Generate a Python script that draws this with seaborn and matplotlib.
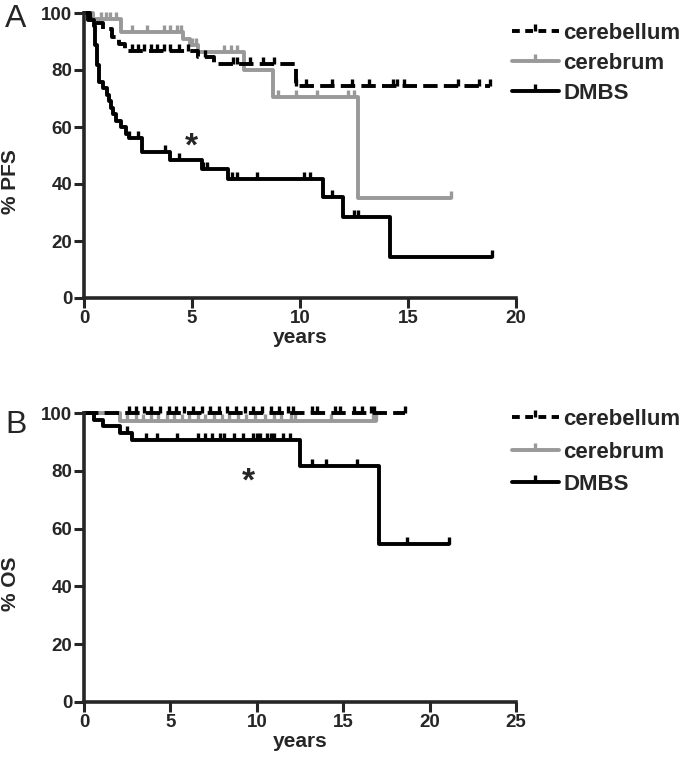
import numpy as np
import pandas as pd
import matplotlib
matplotlib.use("Agg")
import matplotlib.pyplot as plt
import seaborn as sns
from matplotlib.lines import Line2D

# ---------------- data ----------------
groups = ["cerebellum", "cerebrum", "DMBS"]

# Panel A: progression-free survival
A_cerebellum_t = [0.3, 0.5, 0.9, 1.3, 1.6, 1.9, 5.3, 6.0, 9.8]
A_cerebellum_s = [98, 96.5, 94.5, 91.5, 89, 86.8, 84.5, 82, 74.5]
A_cerebellum_cens = [2.2, 2.5, 2.8, 3.1, 3.4, 3.7, 4.0, 4.4, 4.8, 5.6, 6.9, 7.1, 7.7, 8.3, 8.8,
                     9.8, 10.3, 11.5, 12.4, 13.2, 14.3, 14.5, 14.8, 17.3, 18.3, 18.8]
A_cerebellum_end = 18.8

A_cerebrum_t = [0.4, 1.7, 4.6, 4.9, 5.3, 7.4, 8.75, 12.7]
A_cerebrum_s = [97.8, 93.3, 91, 88.7, 86.2, 80, 70.5, 35.2]
A_cerebrum_cens = [0.8, 1.0, 1.2, 1.5, 2.2, 2.9, 3.7, 4.0, 4.3, 4.5, 5.0, 5.2, 6.5, 6.8, 7.1,
                   9.0, 9.8, 10.8, 12.2, 12.5, 17.0]
A_cerebrum_end = 17.0

A_dmbs_t = [0.2, 0.45, 0.5, 0.6, 0.7, 0.9, 1.05, 1.15, 1.25, 1.35, 1.5, 1.7, 1.95, 2.1,
            2.7, 4.0, 5.45, 6.65, 11.05, 12.0, 14.15]
A_dmbs_s = [97.7, 95.4, 88.6, 81.8, 75.9, 73.6, 71.4, 69.1, 66.8, 64.5, 62.2, 60, 57.7, 56,
            51.2, 48.4, 45.3, 41.8, 35.4, 28.4, 14.4]
A_dmbs_cens = [2.1, 2.5, 3.75, 4.4, 5.5, 5.7, 6.85, 7.1, 8.0, 10.2, 10.45, 11.5, 12.5, 12.7, 18.9]
A_dmbs_end = 18.9

# Panel B: overall survival
B_cerebellum_t = []
B_cerebellum_s = []
B_cerebellum_cens = [2.6, 3.0, 3.5, 3.9, 4.4, 4.9, 5.3, 5.8, 6.3, 6.8, 7.3, 7.8, 8.3, 8.8, 9.3,
                     9.8, 10.3, 10.8, 11.3, 11.8, 12.1, 13.2, 13.5, 14.5, 14.8, 15.6, 16.1,
                     16.6, 16.8, 18.6]
B_cerebellum_end = 18.6

B_cerebrum_t = [2.1]
B_cerebrum_s = [97.3]
B_cerebrum_cens = [2.5, 3.0, 3.4, 3.9, 4.3, 4.8, 5.2, 5.7, 6.1, 6.6, 7.0, 7.5, 8.0, 8.4, 8.9,
                   9.4, 9.9, 10.5, 11.0, 11.4, 12.0, 12.2, 14.3, 16.7, 16.9]
B_cerebrum_end = 16.9

B_dmbs_t = [0.6, 1.1, 2.1, 2.75, 12.5, 17.1]
B_dmbs_s = [97.7, 95.4, 93.1, 90.8, 81.7, 54.5]
B_dmbs_cens = [2.5, 3.6, 4.2, 5.4, 6.6, 7.0, 7.4, 7.85, 8.1, 8.7, 9.2, 9.8, 10.0, 10.2, 10.6,
               10.8, 11.0, 11.5, 11.9, 13.2, 14.0, 15.8, 18.7, 21.1]
B_dmbs_end = 21.1

A_xticks = [0, 5, 10, 15, 20]
B_xticks = [0, 5, 10, 15, 20, 25]
y_ticks = [0, 20, 40, 60, 80, 100]

# ---------------- styling ----------------
sns.set_style("ticks")
plt.rcParams["font.family"] = ["Liberation Sans", "DejaVu Sans"]
plt.rcParams["font.weight"] = "bold"

W, H = 685, 762
DPI = 100
fig = plt.figure(figsize=(W / DPI, H / DPI), dpi=DPI)

colors = {"cerebellum": "#000000", "cerebrum": "#999999", "DMBS": "#000000"}
dash_map = {"cerebellum": (2.0, 1.4), "cerebrum": "", "DMBS": ""}
LW = 2.8
MS = 10
MEW = 2.4
tick_marker = [(0, 0), (0, 1)]


def curve_frame(spec):
    rows = []
    for g, (ts, ss, cens, end) in spec.items():
        tt = [0.0] + list(ts) + [end]
        sv = [100.0] + list(ss) + [([100.0] + list(ss))[-1]]
        for a, b in zip(tt, sv):
            rows.append({"t": a, "s": b, "group": g})
    return pd.DataFrame(rows)


def surv_at(ts, ss, c):
    full = [100.0] + list(ss)
    idx = np.searchsorted(np.asarray(ts, dtype=float), c, side="right")
    return full[idx]


def draw_panel(ax, spec, xticks, ylabel, star_xy, legend_anchor, lspace):
    df = curve_frame(spec)
    order = ["cerebrum", "cerebellum", "DMBS"]
    for g in order:
        sub = df[df.group == g]
        kw = {"dashes": dash_map[g]} if g == "cerebellum" else {}
        sns.lineplot(data=sub, x="t", y="s", color=colors[g], lw=LW,
                     drawstyle="steps-post", estimator=None, sort=False,
                     ax=ax, legend=False,
                     linestyle="--" if g == "cerebellum" else "-", **kw)
        ts, ss, cens, end = spec[g]
        cy = [surv_at(ts, ss, c) for c in cens]
        ax.plot(cens, cy, linestyle="none", marker=tick_marker, markersize=MS,
                markeredgewidth=MEW, color=colors[g], markerfacecolor=colors[g])
    ax.set_xlim(xticks[0], xticks[-1])
    ax.set_ylim(0, 100)
    ax.set_xticks(xticks)
    ax.set_yticks(y_ticks)
    ax.tick_params(direction="out", length=7, width=2.2, labelsize=13.5, pad=1.5)
    for lab in ax.get_xticklabels() + ax.get_yticklabels():
        lab.set_fontweight("bold")
    sns.despine(ax=ax)
    for sp in ["left", "bottom"]:
        ax.spines[sp].set_linewidth(2.6)
    ax.set_xlabel("years", fontsize=15, fontweight="bold", labelpad=1)
    ax.set_ylabel(ylabel, fontsize=15, fontweight="bold")
    ax.yaxis.set_label_coords(-0.148, 0.41)
    ax.text(star_xy[0], star_xy[1], "*", fontsize=24, fontweight="bold",
            ha="center", va="center")
    for ln in ax.lines:
        ln.set_clip_on(False)

    handles = []
    for g in groups:
        h = Line2D([], [], color=colors[g], lw=LW,
                   linestyle=(0, dash_map[g]) if g == "cerebellum" else "-",
                   marker=tick_marker, markersize=MS, markeredgewidth=MEW,
                   markerfacecolor=colors[g])
        handles.append(h)
    ax.legend(handles, groups, loc="upper left",
              bbox_to_anchor=legend_anchor, bbox_transform=fig.transFigure,
              frameon=False, borderpad=0, borderaxespad=0, numpoints=1,
              handlelength=2.1, handletextpad=0.2, labelspacing=lspace,
              prop={"size": 16, "weight": "bold"})
    return ax


left = 84 / W
width = 432 / W
axA = fig.add_axes([left, 1 - 298 / H, width, 285 / H])
axB = fig.add_axes([left, 1 - 702 / H, width, 289 / H])

specA = {
    "cerebellum": (A_cerebellum_t, A_cerebellum_s, A_cerebellum_cens, A_cerebellum_end),
    "cerebrum": (A_cerebrum_t, A_cerebrum_s, A_cerebrum_cens, A_cerebrum_end),
    "DMBS": (A_dmbs_t, A_dmbs_s, A_dmbs_cens, A_dmbs_end),
}
specB = {
    "cerebellum": (B_cerebellum_t, B_cerebellum_s, B_cerebellum_cens, B_cerebellum_end),
    "cerebrum": (B_cerebrum_t, B_cerebrum_s, B_cerebrum_cens, B_cerebrum_end),
    "DMBS": (B_dmbs_t, B_dmbs_s, B_dmbs_cens, B_dmbs_end),
}

draw_panel(axA, specA, A_xticks, "% PFS", (4.97, 53.0), (512 / W, 1 - 23 / H), 0.4)
draw_panel(axB, specB, B_xticks, "% OS", (9.5, 76.0), (512 / W, 1 - 409 / H), 0.52)

fig.text(5 / W, 1 - 27 / H, "A", fontsize=23, fontweight="normal", ha="left", va="baseline")
fig.text(5 / W, 1 - 433 / H, "B", fontsize=23, fontweight="normal", ha="left", va="baseline")

fig.savefig("out.png", dpi=DPI)
